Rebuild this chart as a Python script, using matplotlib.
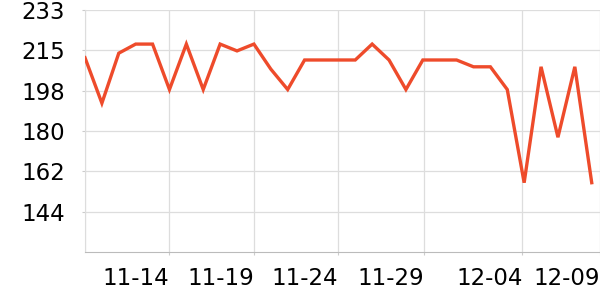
import matplotlib
matplotlib.use("Agg")
import matplotlib.pyplot as plt

# daily values 11-09 .. 12-09
dates = ["11-09", "11-10", "11-11", "11-12", "11-13", "11-14", "11-15", "11-16",
         "11-17", "11-18", "11-19", "11-20", "11-21", "11-22", "11-23", "11-24",
         "11-25", "11-26", "11-27", "11-28", "11-29", "11-30", "12-01", "12-02",
         "12-03", "12-04", "12-05", "12-06", "12-07", "12-08", "12-09"]
values = [212, 192, 214, 218, 218, 198, 218, 198, 218, 215, 218, 207, 198, 211,
          211, 211, 211, 218, 211, 198, 211, 211, 211, 208, 208, 198, 157, 208,
          177, 208, 157]

y_ticks = [144.25, 162.0, 179.75, 197.5, 215.25, 233.0]
y_labels = ["144", "162", "180", "198", "215", "233"]
x_tick_pos = [5, 10, 15, 20.07, 25.9, 30.49]
x_labels = ["11-14", "11-19", "11-24", "11-29", "12-04", "12-09"]

fig = plt.figure(figsize=(6, 3), dpi=100)
ax = fig.add_axes([85 / 600, 48 / 300, 515 / 600, 242 / 300])

x = list(range(len(values)))
ax.plot(x, values, color="#EE4B2B", linewidth=2.4, zorder=3,
        solid_joinstyle="miter")

ax.set_xlim(0, 30.49)
ax.set_ylim(126.5, 233)

ax.set_yticks(y_ticks)
ax.set_yticklabels(y_labels)
ax.set_xticks(x_tick_pos)
ax.set_xticklabels(x_labels, ha="right")

ax.grid(True, color="#dddddd", linewidth=0.9)
ax.set_axisbelow(True)
ax.axvline(0, color="#dddddd", linewidth=0.9, zorder=1)

for s in ["top", "right"]:
    ax.spines[s].set_visible(False)
ax.spines["left"].set_color("#dddddd")
ax.spines["bottom"].set_color("#bbbbbb")

ax.tick_params(axis="y", length=2.5, color="#cccccc", labelsize=16.5, pad=12)
ax.tick_params(axis="x", length=2.5, color="#cccccc", labelsize=16.5, pad=8)

fig.savefig("out.png", dpi=100)
